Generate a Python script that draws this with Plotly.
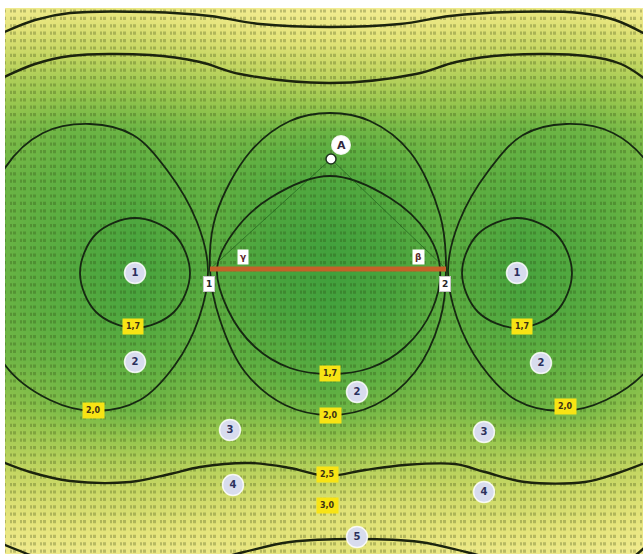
import plotly.graph_objects as go

# ---- field values (coarse grid, x/y in chart units) ----
grid_x = [0, 70, 135, 210, 270, 330, 390, 446, 520, 585, 643]
grid_y = [0, 40, 80, 130, 180, 230, 270, 310, 360, 410, 460, 510, 554]
grid_z = [
    [3.4, 3.2, 3.2, 3.3, 3.4, 3.4, 3.4, 3.3, 3.2, 3.2, 3.4],
    [2.9, 2.8, 2.8, 2.9, 3.0, 3.0, 3.0, 2.9, 2.8, 2.8, 2.9],
    [2.5, 2.4, 2.4, 2.5, 2.55, 2.6, 2.55, 2.5, 2.4, 2.4, 2.5],
    [2.15, 2.0, 2.0, 2.1, 2.05, 2.0, 2.05, 2.1, 2.0, 2.0, 2.15],
    [2.0, 1.9, 1.85, 1.95, 1.8, 1.7, 1.8, 1.95, 1.85, 1.9, 2.0],
    [2.0, 1.8, 1.65, 1.9, 1.65, 1.55, 1.65, 1.9, 1.65, 1.8, 2.0],
    [2.0, 1.75, 1.6, 1.8, 1.6, 1.5, 1.6, 1.8, 1.6, 1.75, 2.0],
    [2.0, 1.8, 1.65, 1.9, 1.65, 1.55, 1.65, 1.9, 1.65, 1.8, 2.0],
    [2.05, 1.95, 1.9, 1.95, 1.85, 1.7, 1.85, 1.95, 1.9, 1.95, 2.05],
    [2.3, 2.1, 2.0, 2.15, 2.1, 2.0, 2.1, 2.15, 2.0, 2.1, 2.3],
    [2.6, 2.55, 2.5, 2.5, 2.5, 2.45, 2.5, 2.5, 2.5, 2.55, 2.6],
    [3.0, 2.9, 2.85, 2.9, 2.95, 3.0, 2.95, 2.9, 2.85, 2.9, 3.0],
    [3.3, 3.2, 3.2, 3.2, 3.05, 3.0, 3.05, 3.2, 3.2, 3.2, 3.3],
]

# ---- anchors, baseline and point A ----
anchor_x = [210, 446]
anchor_y = [269, 269]
anchor_names = ["1", "2"]
point_a = (331, 159)

# ---- isolines ----
iso_left_inner_x = [135, 174, 190, 174, 135, 96, 80, 96, 135]
iso_left_inner_y = [218, 234, 273, 312, 328, 312, 273, 234, 218]
iso_right_inner_x = [517, 556, 572, 556, 517, 478, 462, 478, 517]
iso_right_inner_y = [218, 234, 273, 312, 328, 312, 273, 234, 218]

iso_left_outer_x = [208, 197, 167, 133, 90, 43, 5, -30, 5, 50, 95, 140, 175, 199, 208]
iso_left_outer_y = [270, 222, 170, 135, 124, 133, 168, 270, 365, 400, 411, 400, 365, 318, 270]
iso_right_outer_x = [448, 459, 489, 523, 566, 613, 651, 686, 651, 606, 561, 516, 481, 457, 448]
iso_right_outer_y = [270, 222, 170, 135, 124, 133, 168, 270, 365, 400, 411, 400, 365, 318, 270]

iso_mid_outer_x = [210, 216, 250, 290, 330, 370, 410, 440, 446, 440, 415, 375, 330, 285, 245, 220, 210]
iso_mid_outer_y = [270, 215, 152, 121, 113, 121, 152, 215, 270, 320, 372, 405, 415, 405, 372, 320, 270]
iso_mid_inner_x = [217, 233, 270, 330, 390, 427, 440, 432, 405, 370, 330, 290, 255, 228, 217]
iso_mid_inner_y = [268, 233, 198, 176, 198, 233, 268, 310, 347, 368, 374, 368, 347, 310, 268]

iso_top_hi_x = [0, 35, 70, 150, 210, 260, 330, 400, 450, 510, 580, 615, 645]
iso_top_hi_y = [34, 20, 13, 12, 16, 24, 27, 24, 16, 12, 13, 20, 34]
iso_top_lo_x = [0, 35, 70, 150, 200, 240, 330, 416, 456, 506, 586, 621, 645]
iso_top_lo_y = [79, 64, 56, 55, 62, 74, 83, 74, 62, 55, 56, 64, 79]

iso_bot_hi_x = [0, 30, 70, 130, 170, 200, 250, 290, 327, 365, 405, 455, 485, 525, 585, 615, 645]
iso_bot_hi_y = [461, 472, 481, 482, 474, 467, 463, 468, 476, 470, 465, 464, 472, 482, 482, 474, 463]
iso_bot_lo_x = [0, 25, 60, 150, 240, 290, 357, 420, 470, 560, 620, 645]
iso_bot_lo_y = [543, 553, 565, 575, 553, 542, 539, 542, 553, 575, 565, 547]

# ---- level labels ----
level_text = ["1,7", "1,7", "1,7", "2,0", "2,0", "2,0", "2,5", "3,0"]
level_x = [133, 522, 330, 93, 565, 330, 327, 327]
level_y = [326, 326, 373, 410, 406, 415, 474, 505]

# ---- zone markers ----
zone_text = ["1", "1", "2", "2", "2", "3", "3", "4", "4", "5"]
zone_x = [135, 517, 135, 541, 357, 230, 484, 233, 484, 357]
zone_y = [273, 273, 362, 363, 392, 430, 432, 485, 492, 537]

# ---- angle labels ----
angle_text = ["γ", "β"]
angle_x = [243, 418]
angle_y = [257, 257]

fig = go.Figure()

fig.add_trace(go.Heatmap(
    x=grid_x, y=grid_y, z=grid_z, zsmooth="best", showscale=False,
    zmin=1.5, zmax=3.4,
    colorscale=[
        [0.00, "rgb(64,160,60)"],
        [0.22, "rgb(96,176,66)"],
        [0.42, "rgb(150,198,78)"],
        [0.62, "rgb(196,214,98)"],
        [0.80, "rgb(228,228,122)"],
        [1.00, "rgb(246,238,152)"],
    ],
    hoverinfo="skip",
))

# text-grid texture over the field (rows of tiny figures)
tex_x, tex_y = [], []
ty = 11.0
while ty < 554:
    tex_x += [0, 643, None]
    tex_y += [ty, ty, None]
    ty += 7.4
fig.add_trace(go.Scatter(
    x=tex_x, y=tex_y, mode="lines", hoverinfo="skip",
    line=dict(color="rgba(40,55,10,0.26)", width=3.2, dash="2px,1px,3px,4px")))

iso_style = dict(color="rgb(22,40,18)", width=1.8, shape="spline", smoothing=1.0)
for xs, ys in [
    (iso_left_inner_x, iso_left_inner_y), (iso_right_inner_x, iso_right_inner_y),
    (iso_left_outer_x, iso_left_outer_y), (iso_right_outer_x, iso_right_outer_y),
    (iso_mid_outer_x, iso_mid_outer_y), (iso_mid_inner_x, iso_mid_inner_y),
]:
    fig.add_trace(go.Scatter(x=xs, y=ys, mode="lines", line=iso_style, hoverinfo="skip"))
for xs, ys in [
    (iso_top_hi_x, iso_top_hi_y), (iso_top_lo_x, iso_top_lo_y),
    (iso_bot_hi_x, iso_bot_hi_y), (iso_bot_lo_x, iso_bot_lo_y),
]:
    fig.add_trace(go.Scatter(x=xs, y=ys, mode="lines",
                             line=dict(color="rgb(28,36,14)", width=2.4, shape="spline", smoothing=1.0),
                             hoverinfo="skip"))

# triangle sides from A to the anchors
fig.add_trace(go.Scatter(
    x=[anchor_x[0], point_a[0], anchor_x[1]], y=[anchor_y[0], point_a[1], anchor_y[1]],
    mode="lines", line=dict(color="rgba(20,80,20,0.55)", width=1), hoverinfo="skip"))

# baseline between anchors
fig.add_trace(go.Scatter(x=anchor_x, y=anchor_y, mode="lines",
                         line=dict(color="rgb(196,98,40)", width=5), hoverinfo="skip"))

# point A
fig.add_trace(go.Scatter(x=[point_a[0]], y=[point_a[1]], mode="markers",
                         marker=dict(size=10, color="white", line=dict(color="rgb(30,50,30)", width=1.5)),
                         hoverinfo="skip"))

# zone markers
fig.add_trace(go.Scatter(
    x=zone_x, y=zone_y, mode="markers+text", text=["<b>" + t + "</b>" for t in zone_text],
    textposition="middle center",
    marker=dict(size=21, color="rgb(216,220,238)", line=dict(color="rgba(255,255,255,0.85)", width=1.5)),
    textfont=dict(family="DejaVu Sans", size=10, color="rgb(44,48,92)"),
    hoverinfo="skip"))

annotations = []
for t, x, y in zip(level_text, level_x, level_y):
    annotations.append(dict(x=x, y=y, text="<b>" + t + "</b>", showarrow=False,
                            bgcolor="rgb(248,228,20)", borderpad=3,
                            font=dict(family="DejaVu Sans", size=8, color="rgb(60,50,20)")))
for t, x in zip(anchor_names, anchor_x):
    annotations.append(dict(x=x - 1, y=284, text="<b>" + t + "</b>", showarrow=False,
                            bgcolor="white", borderpad=2, bordercolor="rgb(200,200,200)", borderwidth=1,
                            font=dict(family="DejaVu Sans", size=9, color="rgb(40,40,40)")))
for t, x, y in zip(angle_text, angle_x, angle_y):
    annotations.append(dict(x=x, y=y, text="<b>" + t + "</b>", showarrow=False,
                            bgcolor="white", borderpad=2,
                            font=dict(family="DejaVu Sans", size=9, color="rgb(90,40,40)")))
annotations.append(dict(x=point_a[0] + 10, y=point_a[1] - 14, text="<b>A</b>", showarrow=False,
                        font=dict(family="DejaVu Sans", size=11, color="rgb(50,40,60)")))

shapes = [
    dict(type="circle", xref="x", yref="y", x0=point_a[0] + 1, x1=point_a[0] + 19,
         y0=point_a[1] - 23, y1=point_a[1] - 5, fillcolor="white",
         line=dict(color="rgba(255,255,255,0.9)", width=2), layer="above"),
]

fig.update_layout(
    width=643, height=554,
    margin=dict(l=5, r=0, t=8, b=0),
    paper_bgcolor="white", plot_bgcolor="white",
    showlegend=False,
    xaxis=dict(range=[5, 643], visible=False, fixedrange=True),
    yaxis=dict(range=[554, 8], visible=False, fixedrange=True),
    shapes=shapes,
    annotations=annotations,
)

fig.write_html("out.html")
